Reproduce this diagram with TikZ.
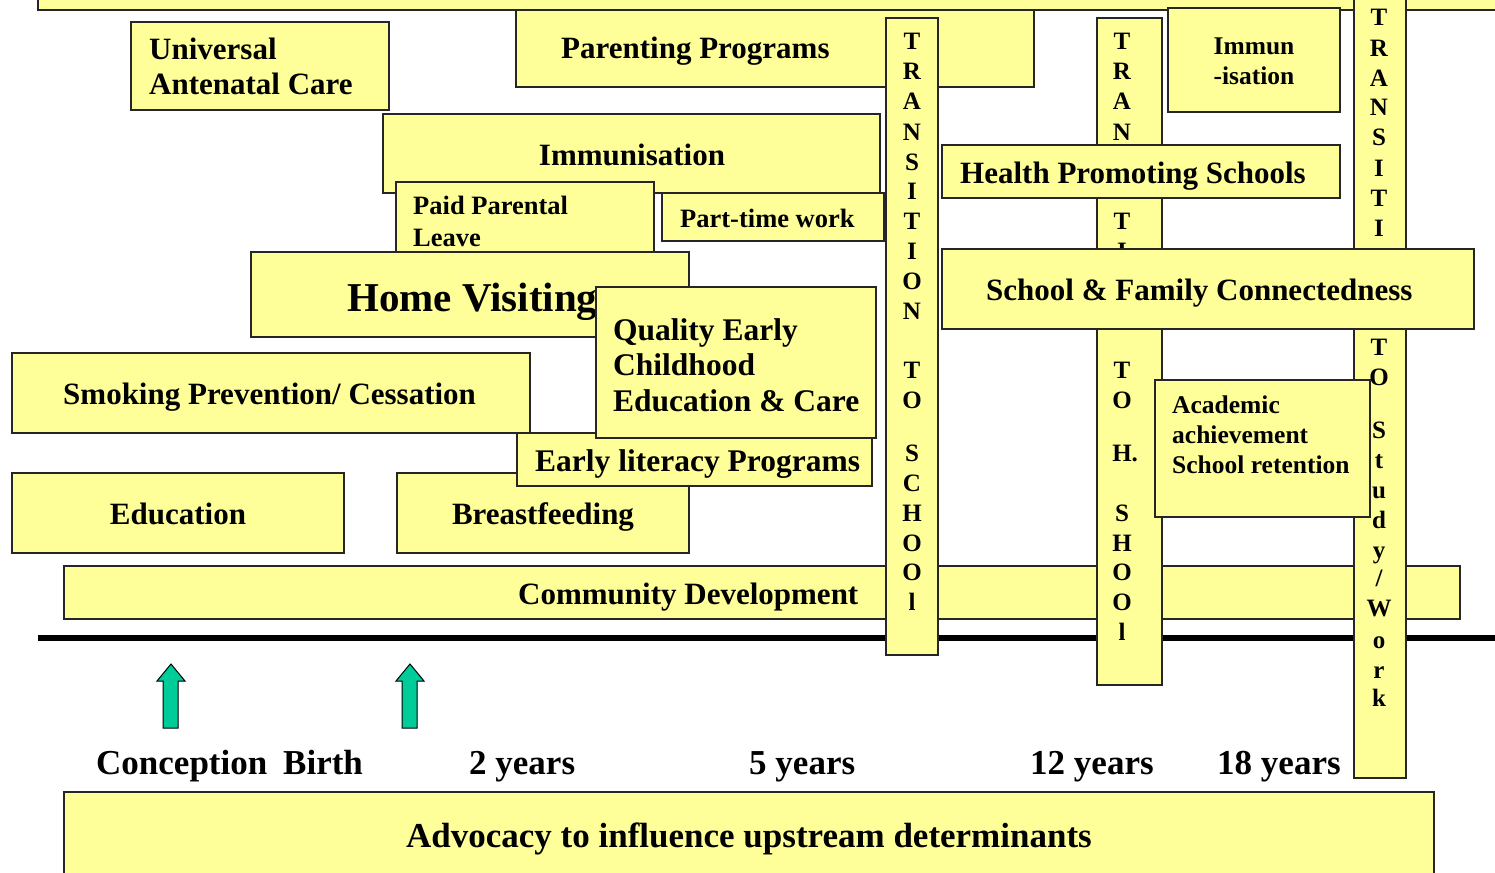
\documentclass[tikz,border=0pt]{standalone}
\usepackage{fontspec}
\setmainfont{Liberation Serif}
\usetikzlibrary{fit}
\definecolor{boxyellow}{HTML}{FFFF99}
\definecolor{arrowgreen}{HTML}{00CC99}

\begin{document}
\begin{tikzpicture}[
    x=1pt, y=-1pt,
    box/.style={draw=black!85, line width=1.6pt, fill=boxyellow, inner sep=0pt},
    boxtext/.style={font=\bfseries\fontsize{31}{35}\selectfont, inner sep=0pt},
    smalltext/.style={font=\bfseries\fontsize{25.5}{30}\selectfont, inner sep=0pt},
    agetext/.style={font=\bfseries\fontsize{35}{40}\selectfont, inner sep=0pt, anchor=base west},
    letter/.style={font=\bfseries\fontsize{25}{30}\selectfont, inner sep=0pt, anchor=base},
    timeline/.style={line width=6pt},
    uparrow/.style={draw=black, line width=1pt, fill=arrowgreen}
]
    \useasboundingbox (0,0) rectangle (1495,872);

    % Early years programmes
    \node[box, fit={(516,-5) (1034,87)}] (parenting) {};
    \node[boxtext, anchor=base west] at (561,59) {Parenting Programs};

    % Top band
    \node[box, fit={(38,-30) (1530,10)}] (topband) {};

    \node[box, fit={(131,22) (389,110)}] (antenatal) {};
    \node[boxtext, anchor=north west, align=left] at (149,38) {Universal\\Antenatal Care};

    \node[box, fit={(383,114) (880,193)}] (immunisation) {};
    \node[boxtext, anchor=base] at (632,165) {Immunisation};

    \node[box, fit={(396,182) (654,252)}] (parental) {};
    \node[font=\bfseries\fontsize{26.5}{32}\selectfont, inner sep=0pt, anchor=north west, align=left] at (413,196) {Paid Parental\\Leave};

    \node[box, fit={(662,193) (884,241)}] (parttime) {};
    \node[font=\bfseries\fontsize{26.5}{32}\selectfont, inner sep=0pt, anchor=base west] at (680,227) {Part-time work};

    \node[box, fit={(251,252) (689,337)}] (homevisit) {};
    \node[font=\bfseries\fontsize{41}{46}\selectfont, inner sep=0pt, anchor=base west] at (347,311) {Home Visiting};

    \node[box, fit={(12,353) (530,433)}] (smoking) {};
    \node[boxtext, anchor=base west] at (63,404) {Smoking Prevention/ Cessation};

    \node[box, fit={(12,473) (344,553)}] (education) {};
    \node[boxtext, anchor=base] at (178,524) {Education};

    \node[box, fit={(397,473) (689,553)}] (breastfeeding) {};
    \node[boxtext, anchor=base] at (543,524) {Breastfeeding};

    \node[box, fit={(517,433) (872,486)}] (literacy) {};
    \node[font=\bfseries\fontsize{31.5}{36}\selectfont, inner sep=0pt, anchor=base west] at (535,471) {Early literacy Programs};

    \node[box, fit={(596,287) (876,438)}] (ecec) {};
    \node[font=\bfseries\fontsize{31.5}{35.5}\selectfont, inner sep=0pt, anchor=north west, align=left] at (613,318) {Quality Early\\Childhood\\Education \& Care};

    \node[box, fit={(64,566) (1460,619)}] (community) {};
    \node[boxtext, anchor=base west] at (518,604) {Community Development};

    % Age line
    \coordinate (lineleft) at (38,638);
    \coordinate (lineright) at (1500,638);
    \draw[timeline] (lineleft) -- (lineright);

    % Transition to school
    \node[box, fit={(886,18) (938,655)}] (toschool) {};
    \foreach \c/\yy [count=\i] in {T/50, R/80, A/110, N/140, S/170, I/199, T/229, I/259, O/289, N/319,
                                  T/378, O/408, S/461, C/491, H/521, O/551, O/580, l/610}
        \node[letter] (ts\i) at (912,\yy) {\c};

    % Transition to high school
    \node[box, fit={(1097,18) (1162,685)}] (tohigh) {};
    \foreach \c/\yy [count=\i] in {T/50, R/80, A/110, N/140, S/170, I/199, T/229, I/259, O/289, N/319,
                                  T/378, O/408, H\rlap{.}/461, S/521, H/551, O/580, O/610, l/640}
        \node[letter] (th\i) at (1122,\yy) {\c};

    \node[box, fit={(942,145) (1340,198)}] (healthschools) {};
    \node[boxtext, anchor=base west] at (960,183) {Health Promoting Schools};

    \node[box, fit={(1168,8) (1340,112)}] (immunteen) {};
    \node[smalltext, anchor=north, align=center] at (1254,38) {Immun\\-isation};

    % Transition to study or work
    \node[box, fit={(1354,-30) (1406,778)}] (towork) {};

    \node[box, fit={(1155,380) (1370,517)}] (academic) {};
    \node[smalltext, anchor=north west, align=left] at (1172,396) {Academic\\achievement\\School retention};

    \foreach \c/\yy [count=\i] in {T/26, R/57, A/87, N/116, S/146, I/176, T/206, I/236, O/266, N/296,
                                  T/355, O/385, S/438, t/468, u/498, d/528, y/558, {\slash}/586,
                                  W/616, o/648, r/678, k/706}
        \node[letter] (tw\i) at (1379,\yy) {\c};

    \node[box, fit={(942,249) (1474,329)}] (connectedness) {};
    \node[boxtext, anchor=base west] at (986,300) {School \& Family Connectedness};

    % Conception and birth markers
    \foreach \ax [count=\i] in {171,410}
        \draw[uparrow] (\ax,664) -- ++(14,17) -- ++(-7,0) -- ++(0,47) -- ++(-15,0)
            -- ++(0,-47) -- ++(-6,0) -- cycle;

    % Ages
    \node[agetext] (conception) at (96,774) {Conception};
    \node[agetext] (birth) at (283,774) {Birth};
    \node[agetext] (two) at (469,774) {2 years};
    \node[agetext] (five) at (749,774) {5 years};
    \node[agetext] (twelve) at (1030,774) {12 years};
    \node[agetext] (eighteen) at (1217,774) {18 years};

    % Advocacy band
    \node[box, fit={(64,792) (1434,900)}] (advocacy) {};
    \node[font=\bfseries\fontsize{35}{40}\selectfont, inner sep=0pt, anchor=base] at (749,847) {Advocacy to influence upstream determinants};
\end{tikzpicture}
\end{document}
